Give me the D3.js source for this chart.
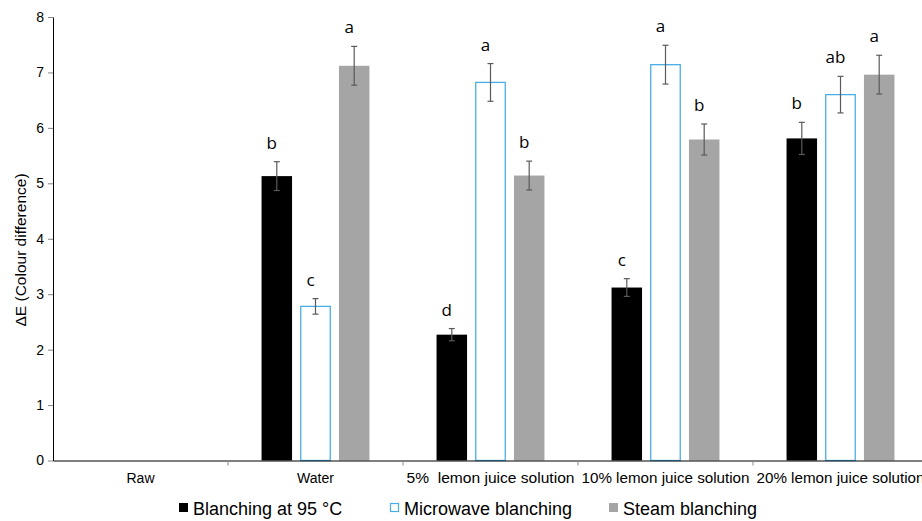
<!DOCTYPE html>
<html>
<head>
<meta charset="utf-8">
<script src="https://cdn.jsdelivr.net/npm/d3@7"></script>
<style>
  body { margin: 0; background: #fff; }
  text { font-family: "Liberation Sans", Arial, sans-serif; white-space: pre; }
  .domain { stroke: #000; }
</style>
</head>
<body>
<svg id="chart"></svg>
<script>
const categories = ['Raw', 'Water', '5%  lemon juice solution', '10% lemon juice solution', '20% lemon juice solution'];
const seriesNames = ['Blanching at 95 °C', 'Microwave blanching', 'Steam blanching'];
const hotWater = [null, 5.13, 2.27, 3.12, 5.81];
const microwave = [null, 2.78, 6.82, 7.14, 6.60];
const steam = [null, 7.12, 5.14, 5.79, 6.96];
const errHot = [null, 0.26, 0.11, 0.16, 0.29];
const errMicro = [null, 0.14, 0.34, 0.35, 0.33];
const errSteam = [null, 0.35, 0.26, 0.28, 0.35];
const letHot = [null, 'b', 'd', 'c', 'b'];
const letMicro = [null, 'c', 'a', 'a', 'ab'];
const letSteam = [null, 'a', 'b', 'b', 'a'];
const yTicks = [0, 1, 2, 3, 4, 5, 6, 7, 8];

const w = 922, h = 521;
const padLeft = 53, padRight = 928, padTop = 17, padBottom = 460.5;

const svg = d3.select('#chart').attr('width', w).attr('height', h);

const escalaX = d3.scaleBand().domain(categories).range([padLeft, padRight]).padding(0);
const escalaSerie = d3.scaleBand().domain(seriesNames).range([0, escalaX.bandwidth()])
  .paddingInner(0.212).paddingOuter(0.867);
const escalaY = d3.scaleLinear().domain([0, 8]).range([padBottom, padTop]);

const estilos = {
  'Blanching at 95 °C': {fill: '#000000', stroke: 'none'},
  'Microwave blanching': {fill: '#ffffff', stroke: '#4aaee6'},
  'Steam blanching': {fill: '#a5a5a5', stroke: 'none'}
};

let filas = [];
categories.forEach((c, i) => {
  [[hotWater, errHot, letHot], [microwave, errMicro, letMicro], [steam, errSteam, letSteam]].forEach((s, j) => {
    if (s[0][i] != null) filas.push({cat: c, serie: seriesNames[j], v: s[0][i], e: s[1][i], l: s[2][i]});
  });
});

// y axis
const ejeY = d3.axisLeft(escalaY).tickValues(yTicks).tickSize(5).tickSizeOuter(0).tickFormat(d3.format('d'));
const gy = svg.append('g').attr('transform', 'translate(' + padLeft + ',0)').call(ejeY);
gy.selectAll('text').attr('font-size', 14).attr('fill', '#000').attr('x', -9);
gy.selectAll('line').attr('stroke', '#868686');
gy.select('.domain').attr('stroke', '#000');

// bars
svg.append('g').selectAll('rect')
  .data(filas)
  .enter()
  .append('rect')
  .attr('x', d => escalaX(d.cat) + escalaSerie(d.serie) + (estilos[d.serie].stroke !== 'none' ? 0.5 : 0))
  .attr('y', d => escalaY(d.v))
  .attr('width', d => escalaSerie.bandwidth() - (estilos[d.serie].stroke !== 'none' ? 1 : 0))
  .attr('height', d => escalaY(0) - escalaY(d.v))
  .attr('fill', d => estilos[d.serie].fill)
  .attr('stroke', d => estilos[d.serie].stroke)
  .attr('stroke-width', 1.3);

// error bars
const err = svg.append('g').attr('stroke', '#5a5a5a').attr('stroke-width', 1.2);
filas.forEach(d => {
  const cx = escalaX(d.cat) + escalaSerie(d.serie) + escalaSerie.bandwidth() / 2;
  const y1 = escalaY(d.v + d.e), y2 = escalaY(d.v - d.e);
  err.append('line').attr('x1', cx).attr('x2', cx).attr('y1', y1).attr('y2', y2);
  err.append('line').attr('x1', cx - 3).attr('x2', cx + 3).attr('y1', y1).attr('y2', y1);
  err.append('line').attr('x1', cx - 3).attr('x2', cx + 3).attr('y1', y2).attr('y2', y2);
});

// letters
svg.append('g').selectAll('text')
  .data(filas)
  .enter()
  .append('text')
  .attr('x', d => escalaX(d.cat) + escalaSerie(d.serie) + escalaSerie.bandwidth() / 2 - 5)
  .attr('y', d => escalaY(d.v + d.e) - 13)
  .attr('text-anchor', 'middle')
  .style('font-family', '"Open Sans", Lato, sans-serif')
  .attr('font-size', 17)
  .attr('fill', '#000')
  .text(d => d.l);

// x axis
const ejeX = d3.axisBottom(escalaX).tickSize(0).tickSizeOuter(0);
const gx = svg.append('g').attr('transform', 'translate(0,' + padBottom + ')').call(ejeX);
gx.select('.domain').attr('stroke', '#000').attr('stroke-width', 1.2);
gx.selectAll('text').attr('font-size', 14).attr('fill', '#000').attr('dy', 0).attr('y', 22)
  .attr('textLength', (d, i) => i < 2 ? null : 168).attr('lengthAdjust', 'spacingAndGlyphs');
gx.selectAll('.tick line').remove();
svg.append('g').selectAll('line')
  .data(categories.slice(1))
  .enter()
  .append('line')
  .attr('x1', d => escalaX(d)).attr('x2', d => escalaX(d))
  .attr('y1', padBottom).attr('y2', padBottom + 5)
  .attr('stroke', '#868686');

// y title
svg.append('text')
  .attr('transform', 'translate(26,250) rotate(-90)')
  .attr('text-anchor', 'middle')
  .attr('font-size', 15.5)
  .attr('fill', '#000')
  .text('ΔE (Colour difference)');

// legend
const posLeyenda = [179, 390, 609];
const ley = svg.append('g');
seriesNames.forEach((s, i) => {
  ley.append('rect')
    .attr('x', posLeyenda[i] + (estilos[s].stroke !== 'none' ? 0.5 : 0))
    .attr('y', 503 + (estilos[s].stroke !== 'none' ? 0.5 : 0))
    .attr('width', estilos[s].stroke !== 'none' ? 8 : 9)
    .attr('height', estilos[s].stroke !== 'none' ? 8 : 9)
    .attr('fill', estilos[s].fill)
    .attr('stroke', estilos[s].stroke)
    .attr('stroke-width', 1.2);
  ley.append('text')
    .attr('x', posLeyenda[i] + 14)
    .attr('y', 515)
    .attr('font-size', 18)
    .attr('fill', '#000')
    .text(s);
});
</script>
</body>
</html>
